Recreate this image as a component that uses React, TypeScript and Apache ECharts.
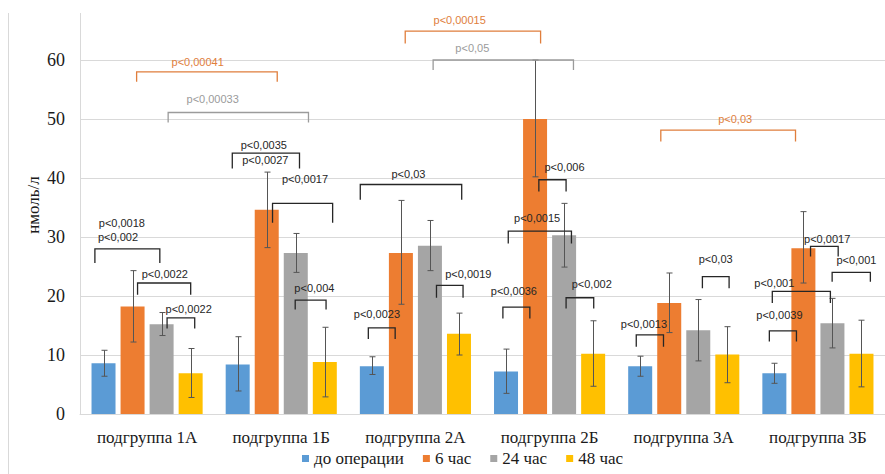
import React, { useEffect, useRef } from 'react';
import * as echarts from 'echarts';

const categories = ['подгруппа 1А', 'подгруппа 1Б', 'подгруппа 2А', 'подгруппа 2Б', 'подгруппа 3А', 'подгруппа 3Б'];
const seriesNames = ['до операции', '6 час', '24 час', '48 час'];
const seriesColors = ['#5B9BD5', '#ED7D31', '#A5A5A5', '#FFC000'];

const beforeOp = [8.6, 8.4, 8.1, 7.2, 8.1, 6.9];
const hour6 = [18.2, 34.6, 27.3, 50.0, 18.8, 28.1];
const hour24 = [15.2, 27.3, 28.5, 30.3, 14.2, 15.4];
const hour48 = [6.9, 8.8, 13.6, 10.2, 10.1, 10.2];

const beforeOpLow = [6.4, 3.9, 6.7, 3.5, 6.4, 5.2];
const beforeOpHigh = [10.8, 13.1, 9.7, 11.0, 9.8, 8.6];
const hour6Low = [12.2, 28.2, 18.6, 40.2, 13.8, 22.2];
const hour6High = [24.3, 41.0, 36.2, 60.0, 23.9, 34.3];
const hour24Low = [13.3, 24.0, 24.3, 24.9, 9.0, 11.2];
const hour24High = [17.2, 30.6, 32.8, 35.7, 19.4, 19.6];
const hour48Low = [2.8, 2.9, 10.0, 4.7, 5.3, 4.6];
const hour48High = [11.1, 14.7, 17.1, 15.8, 14.8, 15.9];

const yTicks = [0, 10, 20, 30, 40, 50, 60];

// brackets: [x start, x end (category index units), y of bar, y of tick ends]
const bracketsBlack = [
  [-0.389, 0.095, 28.0, 25.6],
  [-0.071, 0.325, 22.2, 20.2],
  [0.149, 0.355, 16.3, 14.5],
  [0.635, 1.136, 44.2, 41.6],
  [0.935, 1.383, 35.7, 32.4],
  [1.104, 1.334, 19.3, 17.7],
  [1.589, 2.345, 38.9, 36.3],
  [1.649, 1.849, 14.6, 12.7],
  [2.157, 2.355, 21.8, 19.7],
  [2.920, 3.123, 39.7, 37.7],
  [2.692, 3.163, 31.0, 28.9],
  [2.652, 2.853, 18.1, 16.2],
  [3.123, 3.329, 19.7, 17.9],
  [3.646, 3.849, 13.4, 11.4],
  [4.139, 4.338, 23.3, 21.3],
  [4.638, 4.840, 14.1, 12.3],
  [4.660, 5.093, 20.8, 18.8],
  [4.945, 5.151, 28.4, 26.7],
  [5.106, 5.391, 24.0, 22.4],
];
const bracketsOrange = [
  [-0.078, 0.970, 58.0, 56.3],
  [1.924, 2.933, 64.9, 62.8],
  [3.829, 4.833, 48.1, 46.2],
];
const bracketsGray = [
  [0.157, 1.203, 51.1, 49.4],
  [2.132, 3.178, 60.0, 58.3],
];

const labelTexts = [
  'p<0,0018', 'p<0,002', 'p<0,0022', 'p<0,0022',
  'p<0,0035', 'p<0,0027', 'p<0,0017', 'p<0,004', 'p<0,00033', 'p<0,00041',
  'p<0,03', 'p<0,0023', 'p<0,0019', 'p<0,00015', 'p<0,05',
  'p<0,006', 'p<0,0015', 'p<0,0036', 'p<0,002',
  'p<0,03', 'p<0,0013', 'p<0,03',
  'p<0,0039', 'p<0,001', 'p<0,0017', 'p<0,001',
];
const labelX = [
  -0.188, -0.217, 0.132, 0.310,
  0.870, 0.881, 1.177, 1.247, 0.489, 0.377,
  1.948, 1.713, 2.394, 2.330, 2.424,
  3.111, 2.907, 2.734, 3.314,
  4.383, 3.703, 4.238,
  4.713, 4.675, 5.069, 5.287,
];
const labelY = [
  32.4, 30.0, 23.8, 17.8,
  45.6, 43.1, 39.8, 21.3, 53.4, 59.7,
  40.6, 16.9, 23.7, 66.8, 62.0,
  41.9, 33.2, 20.8, 22.0,
  50.0, 15.3, 26.3,
  16.8, 22.2, 29.7, 26.1,
];
// 0 = black, 1 = orange, 2 = gray
const labelTone = [
  0, 0, 0, 0,
  0, 0, 0, 0, 2, 1,
  0, 0, 0, 1, 2,
  0, 0, 0, 0,
  1, 0, 0,
  0, 0, 0, 0,
];
const toneColors = ['#262626', '#E07E3C', '#9B9B9B'];

const SERIF = 'Liberation Serif';
const SANS = 'Liberation Sans';
const BAR_W = 24;
const BAR_GAP = 0.21;

export default function App() {
  const ref = useRef<HTMLDivElement>(null);

  useEffect(() => {
    if (!ref.current) return;
    const chart = echarts.init(ref.current, undefined, { renderer: 'svg' });

    const values = [beforeOp, hour6, hour24, hour48];
    const lows = [beforeOpLow, hour6Low, hour24Low, hour48Low];
    const highs = [beforeOpHigh, hour6High, hour24High, hour48High];

    const barSeries = values.map((v, k) => ({
      type: 'bar',
      name: seriesNames[k],
      data: v,
      barWidth: BAR_W,
      barGap: `${BAR_GAP * 100}%`,
      itemStyle: { color: seriesColors[k] },
      z: 2,
    }));

    const step = BAR_W * (1 + BAR_GAP);
    const errorSeries = values.map((v, k) => ({
      type: 'custom',
      name: 'err' + k,
      xAxisIndex: 0,
      yAxisIndex: 0,
      clip: false,
      z: 5,
      silent: true,
      encode: { x: 0, y: [1, 2] },
      data: v.map((_, i) => [i, lows[k][i], highs[k][i]]),
      renderItem: (params: any, api: any) => {
        const g = api.value(0);
        const lo = api.coord([g, api.value(1)]);
        const hi = api.coord([g, api.value(2)]);
        const x = Math.round(lo[0] + (k - 1.5) * step) + 0.5;
        const st = { stroke: '#555555', lineWidth: 1 };
        return {
          type: 'group',
          children: [
            { type: 'line', shape: { x1: x, y1: lo[1], x2: x, y2: hi[1] }, style: st },
            { type: 'line', shape: { x1: x - 3, y1: lo[1], x2: x + 3, y2: lo[1] }, style: st },
            { type: 'line', shape: { x1: x - 3, y1: hi[1], x2: x + 3, y2: hi[1] }, style: st },
          ],
        };
      },
    }));

    const bracketSeries = [bracketsBlack, bracketsOrange, bracketsGray].map((list, t) => ({
      type: 'custom',
      name: 'br' + t,
      xAxisIndex: 1,
      yAxisIndex: 0,
      clip: false,
      silent: true,
      z: 6,
      encode: { x: [0, 1], y: [2, 3] },
      data: list,
      renderItem: (params: any, api: any) => {
        const x1 = api.value(0), x2 = api.value(1), yl = api.value(2), yt = api.value(3);
        const a = api.coord([x1, yt]);
        const b = api.coord([x1, yl]);
        const c = api.coord([x2, yl]);
        const d = api.coord([x2, yt]);
        return {
          type: 'polyline',
          shape: { points: [a, b, c, d] },
          style: { stroke: toneColors[t], lineWidth: 1.3, fill: 'none' },
        };
      },
    }));

    const baseGraphics: any[] = [
      { id: 'yext', type: 'line', shape: { x1: 80.5, y1: 13, x2: 80.5, y2: 60 }, style: { stroke: '#d9d9d9', lineWidth: 1 } },
      { id: 'frame', type: 'line', shape: { x1: 8.5, y1: 13, x2: 8.5, y2: 474 }, style: { stroke: '#d9d9d9', lineWidth: 1 } },
      {
        id: 'yname',
        type: 'text',
        x: 33,
        y: 205,
        rotation: Math.PI / 2,
        style: {
          text: 'нмоль/л',
          fontFamily: SERIF,
          fontSize: 17,
          fill: '#1a1a1a',
          align: 'center',
          verticalAlign: 'middle',
        },
      },
    ];

    chart.setOption({
      animation: false,
      grid: { left: 80, top: 60, width: 807, height: 354, containLabel: false },
      legend: {
        data: seriesNames,
        left: 297,
        top: 445,
        icon: 'rect',
        itemWidth: 7,
        itemHeight: 7,
        itemGap: 19,
        textStyle: { fontFamily: SERIF, fontSize: 17, color: '#1a1a1a' },
      },
      xAxis: [
        {
          type: 'category',
          data: categories,
          axisLine: { show: true, onZero: false, lineStyle: { color: '#d9d9d9' } },
          axisTick: { show: false },
          axisLabel: { fontFamily: SERIF, fontSize: 17, color: '#1a1a1a', margin: 15 },
        },
        {
          type: 'value',
          min: -0.5,
          max: 5.5,
          show: false,
          axisLine: { show: false, onZero: false },
          splitLine: { show: false },
          axisLabel: { show: false },
          axisTick: { show: false },
        },
      ],
      yAxis: {
        type: 'value',
        min: yTicks[0],
        max: yTicks[yTicks.length - 1],
        interval: yTicks[1] - yTicks[0],
        axisLine: { show: true, onZero: false, lineStyle: { color: '#d9d9d9' } },
        axisTick: { show: false },
        splitLine: { lineStyle: { color: '#d9d9d9' } },
        axisLabel: { fontFamily: SERIF, fontSize: 18, color: '#1a1a1a', margin: 15 },
      },
      graphic: baseGraphics,
      series: [...barSeries, ...errorSeries, ...bracketSeries],
    });

    // p-value labels placed through the chart's own axes (hidden value x axis + y axis)
    const labelGraphics = labelTexts.map((t, i) => {
      const p = chart.convertToPixel({ xAxisIndex: 1, yAxisIndex: 0 } as any, [labelX[i], labelY[i]]) as number[];
      return {
        id: 'plabel' + i,
        type: 'text',
        x: p[0],
        y: p[1],
        z: 100,
        silent: true,
        style: {
          text: t,
          fontFamily: SANS,
          fontSize: 11,
          fill: toneColors[labelTone[i]],
          align: 'center',
          verticalAlign: 'middle',
        },
      };
    });
    chart.setOption({ graphic: [...baseGraphics, ...labelGraphics] });

    return () => chart.dispose();
  }, []);

  return <div ref={ref} style={{ position: 'absolute', left: 0, top: 0, width: 885, height: 474 }} />;
}
